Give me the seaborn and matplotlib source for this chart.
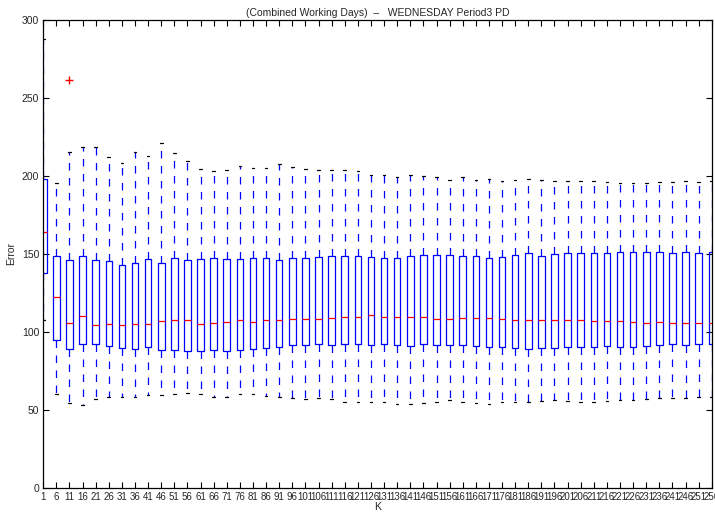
import matplotlib
matplotlib.use("Agg")
import matplotlib.pyplot as plt
import seaborn as sns
import pandas as pd

# ---- data ----
K = list(range(1, 257, 5))  # 1, 6, ..., 256
k_labels = [str(k) for k in K]

lower_whisker = [107.5, 59.7, 54.4, 52.7, 56.9, 57.8, 58.2, 58.2, 59.5, 59.5,
                 59.9, 60.5, 59.9, 58.4, 58.0, 60.1, 60.3, 58.5, 58.4, 57.3,
                 56.5, 57.3, 56.7, 55.0, 55.2, 55.0, 55.0, 53.9, 53.5, 54.4,
                 55.0, 55.9, 54.6, 54.2, 53.9, 55.2, 55.2, 55.0, 55.4, 55.9,
                 55.6, 55.2, 55.2, 55.6, 56.1, 56.3, 56.7, 57.2, 57.2, 57.2,
                 58.0, 58.0]
q1 = [137.8, 94.6, 88.9, 91.8, 91.8, 90.6, 89.5, 89.1, 89.9, 88.2,
      88.2, 87.8, 87.8, 88.2, 87.8, 88.2, 88.6, 89.6, 90.4, 91.4,
      91.6, 92.3, 91.4, 92.0, 92.0, 91.6, 92.0, 91.4, 91.0, 91.8,
      91.4, 91.4, 91.4, 90.8, 90.2, 90.2, 89.5, 88.9, 89.3, 89.5,
      89.9, 90.2, 90.4, 90.6, 90.4, 90.2, 90.8, 91.4, 92.0, 91.2,
      92.3, 91.8]
median = [163.8, 122.5, 105.5, 110.0, 104.4, 104.8, 104.4, 105.2, 105.2, 106.8,
          107.8, 107.4, 104.8, 105.5, 106.3, 107.4, 106.3, 107.4, 107.8, 108.4,
          108.4, 108.2, 109.1, 109.5, 109.7, 110.4, 109.7, 109.7, 109.3, 109.5,
          108.4, 108.4, 108.9, 108.6, 108.6, 108.4, 107.8, 107.6, 107.4, 107.2,
          107.2, 107.2, 107.0, 107.0, 106.7, 106.5, 105.9, 106.3, 105.9, 105.5,
          105.5, 105.5]
q3 = [197.8, 148.3, 146.1, 148.3, 146.1, 145.1, 142.5, 144.4, 146.6, 144.4,
      147.4, 146.1, 146.6, 147.4, 146.8, 146.6, 147.4, 147.1, 146.1, 147.0,
      147.6, 148.0, 148.5, 148.9, 148.7, 148.0, 147.4, 147.6, 148.3, 149.5,
      149.5, 149.5, 148.3, 148.3, 147.6, 147.8, 149.1, 150.2, 148.9, 149.7,
      150.2, 150.6, 150.4, 150.8, 151.2, 151.0, 151.4, 151.0, 150.2, 151.0,
      150.4, 151.0]
upper_whisker = [287.9, 195.5, 215.5, 218.5, 218.5, 211.9, 208.5, 215.5, 213.0, 221.0,
                 214.7, 209.3, 204.5, 203.2, 203.6, 206.1, 204.9, 204.9, 207.6, 205.5,
                 204.5, 203.6, 204.0, 203.6, 203.2, 200.8, 200.8, 199.1, 200.4, 200.0,
                 199.1, 197.6, 199.1, 197.6, 198.1, 196.8, 197.6, 198.3, 197.6, 196.8,
                 196.4, 196.4, 196.4, 196.2, 195.5, 195.5, 195.5, 196.0, 196.2, 197.0,
                 196.0, 196.4]
outlier_k = [11]
outlier_value = [261.5]

# ---- build samples whose box statistics equal the values above ----
rows = []
for i, lab in enumerate(k_labels):
    outs = [v for k, v in zip(outlier_k, outlier_value) if k == K[i]]
    if outs:
        vals = [lower_whisker[i], q1[i], q1[i], median[i], median[i],
                q3[i], q3[i], upper_whisker[i]] + outs
    else:
        vals = [lower_whisker[i], q1[i], q1[i], median[i],
                q3[i], q3[i], upper_whisker[i]]
    for v in vals:
        rows.append({"K": lab, "Error": v})
df = pd.DataFrame(rows)

# ---- plot ----
sns.set_style("ticks")
plt.rcParams["font.family"] = ["Liberation Sans", "DejaVu Sans"]

fig = plt.figure(figsize=(7.15, 5.14), dpi=100)
ax = fig.add_axes([0.0605, 0.0515, 0.935, 0.9095])

sns.boxplot(
    data=df, x="K", y="Error", order=k_labels, ax=ax,
    fill=False, color="#0000ff", width=0.5, whis=1.6, linewidth=0.9,
    fliersize=6,
    medianprops={"color": "#ff0000", "linewidth": 0.9},
    whiskerprops={"color": "#0000ff", "linestyle": (0, (6, 6)), "linewidth": 0.9},
    capprops={"color": "black", "linewidth": 0.9},
    flierprops={"marker": "+", "markeredgecolor": "#ff0000",
                "markerfacecolor": "#ff0000", "markersize": 6},
    capwidths=0.2,
)

ax.set_xlim(0, len(K) - 1)
ax.set_ylim(0, 300)
ax.set_yticks([0, 50, 100, 150, 200, 250, 300])
ax.tick_params(direction="in", top=True, right=True, length=4,
               labelsize=7, pad=3, width=0.8, color="black")
ax.tick_params(axis="y", labelsize=7.5)
for s in ax.spines.values():
    s.set_visible(True)
    s.set_color("black")
    s.set_linewidth(0.9)

ax.set_xlabel("K", fontsize=7.5, labelpad=0)
ax.set_ylabel("Error", fontsize=7.5, labelpad=4)
ax.set_title("(Combined Working Days)  \u2013   WEDNESDAY Period3 PD",
             fontsize=7.5, pad=3)

fig.savefig("out.png", dpi=100)
